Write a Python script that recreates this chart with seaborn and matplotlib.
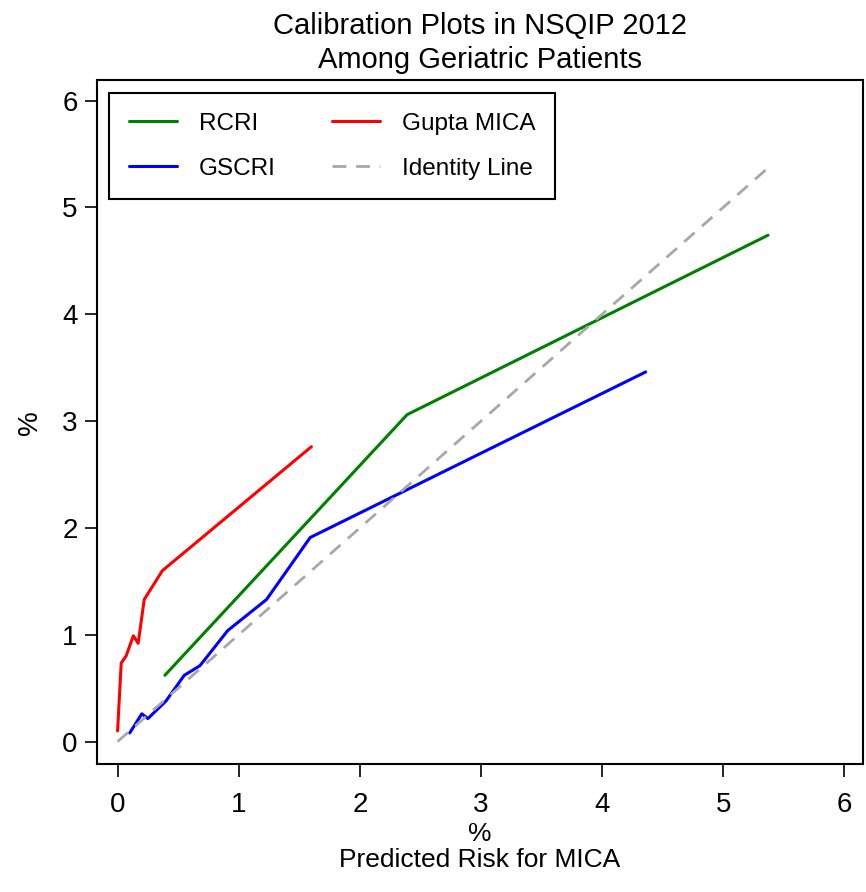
import pandas as pd
import matplotlib
matplotlib.use("Agg")
import matplotlib.pyplot as plt
import seaborn as sns

rcri_x = [0.39, 2.39, 5.37]
rcri_y = [0.62, 3.06, 4.74]

gscri_x = [0.10, 0.20, 0.25, 0.40, 0.55, 0.68, 0.91, 1.23, 1.59, 4.36]
gscri_y = [0.08, 0.26, 0.215, 0.38, 0.62, 0.71, 1.04, 1.33, 1.91, 3.46]

gupta_x = [0.00, 0.03, 0.07, 0.13, 0.17, 0.22, 0.37, 1.60]
gupta_y = [0.10, 0.735, 0.80, 0.99, 0.92, 1.33, 1.60, 2.76]

ident_x = [0.0, 5.39]
ident_y = [0.0, 5.39]

series_names = ["RCRI", "GSCRI", "Gupta MICA"]
series_colors = ["#008000", "#0000FF", "#FF0000"]
ticks = [0, 1, 2, 3, 4, 5, 6]

frames = []
for name, xs, ys in zip(series_names, [rcri_x, gscri_x, gupta_x], [rcri_y, gscri_y, gupta_y]):
    frames.append(pd.DataFrame({"pred": xs, "obs": ys, "model": name}))
df = pd.concat(frames, ignore_index=True)

sns.set_theme(style="white")
plt.rcParams["font.family"] = ["Liberation Sans", "DejaVu Sans"]
plt.rcParams["text.color"] = "black"
plt.rcParams["axes.labelcolor"] = "black"
plt.rcParams["xtick.color"] = "black"
plt.rcParams["ytick.color"] = "black"

fig = plt.figure(figsize=(8.66, 8.92), dpi=100)
ax = fig.add_axes([0.112, 0.1435, 0.884, 0.7665])

sns.lineplot(data=df, x="pred", y="obs", hue="model", hue_order=series_names,
             palette=series_colors, linewidth=2.2, sort=False, estimator=None, ax=ax)
sns.lineplot(x=ident_x, y=ident_y, color="#A8A8A8", linewidth=2.0,
             linestyle=(0, (5.0, 3.5)), label="Identity Line", ax=ax)

ax.set_xlim(-0.17, 6.15)
ax.set_ylim(-0.21, 6.19)
ax.set_xticks(ticks)
ax.set_yticks(ticks)
ax.set_xticklabels([str(t) for t in ticks], fontsize=20)
ax.set_yticklabels([str(t) for t in ticks], fontsize=20)
ax.tick_params(axis="x", direction="out", length=9, width=1.2, pad=11, bottom=True)
ax.tick_params(axis="y", direction="out", length=9, width=1.2, pad=5, left=True)

for sp in ax.spines.values():
    sp.set_color("black")
    sp.set_linewidth(1.5)

ax.set_xlabel("%\nPredicted Risk for MICA", fontsize=19, labelpad=3, linespacing=1.1)
ax.set_ylabel("%", fontsize=20, labelpad=14)
ax.set_title("Calibration Plots in NSQIP 2012\nAmong Geriatric Patients", fontsize=21, pad=9, linespacing=1.25)

handles, labels = ax.get_legend_handles_labels()
leg = ax.legend(handles, labels, ncol=2, loc="upper left", bbox_to_anchor=(0.0, 0.999),
                fontsize=17.5, frameon=True, fancybox=False, edgecolor="black", framealpha=1,
                handlelength=2.0, handletextpad=0.9, columnspacing=2.3,
                borderpad=0.8, labelspacing=0.95)
leg.get_frame().set_linewidth(1.5)

fig.savefig("out.png", dpi=100, facecolor="white")
